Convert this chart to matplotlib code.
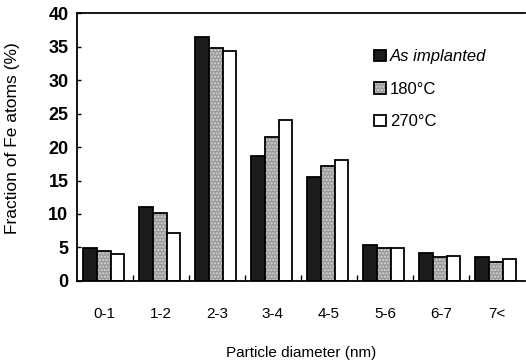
import matplotlib
matplotlib.use("Agg")
import matplotlib.pyplot as plt
import numpy as np

plt.rcParams['font.family'] = ['Liberation Sans', 'DejaVu Sans']

sizes = ["0-1", "1-2", "2-3", "3-4", "4-5", "5-6", "6-7", "7<"]
as_implanted = [4.9, 11.0, 36.5, 18.6, 15.5, 5.4, 4.2, 3.6]
t180 = [4.4, 10.2, 34.8, 21.5, 17.2, 4.9, 3.6, 2.8]
t270 = [4.0, 7.2, 34.4, 24.0, 18.1, 4.9, 3.8, 3.3]

fig = plt.figure(figsize=(5.26, 3.63), dpi=100)
ax = fig.add_axes([0.146, 0.226, 0.852, 0.738])

x = np.arange(len(sizes)) + 0.48
w = 0.245
lw = 1.3
b1 = ax.bar(x - w, as_implanted, width=w, color='#1c1c1c',
            edgecolor='black', linewidth=lw)
# stippled grey: light hatch layer underneath a black outline
b2h = ax.bar(x, t180, width=w, color='#9c9c9c', hatch='.....',
             edgecolor='#d4d4d4', linewidth=0)
b2 = ax.bar(x, t180, width=w, fill=False, edgecolor='black', linewidth=lw)
b3 = ax.bar(x + w, t270, width=w, color='white', edgecolor='black', linewidth=lw)

ax.set_xlim(0, len(sizes))
ax.set_ylim(0, 40)
ax.set_yticks(range(0, 41, 5))
ax.set_xticks(np.arange(len(sizes)) + 0.5)
ax.set_xticklabels(sizes, fontsize=11)
ax.set_xticks(np.arange(1, len(sizes)), minor=True)
ax.tick_params(axis='x', which='major', length=0, pad=19)
ax.tick_params(axis='x', which='minor', direction='in', length=4, width=1)
ax.tick_params(axis='y', direction='in', length=3, width=1, labelsize=13, pad=6)
for t in ax.get_yticklabels():
    t.set_fontweight('bold')

for s in ['left', 'bottom', 'top']:
    ax.spines[s].set_linewidth(lw)
ax.spines['right'].set_visible(False)

ax.set_xlabel('Particle diameter (nm)', fontsize=11, labelpad=18)
ax.set_ylabel('Fraction of Fe atoms (%)', fontsize=12.5)
ax.yaxis.set_label_coords(-0.127, 0.534)

leg = ax.legend([b1[0], (b2h[0], b2[0]), b3[0]],
                ['As implanted', '180°C', '270°C'],
                loc='center left', bbox_to_anchor=(0.63, 0.715), frameon=False,
                fontsize=12, handlelength=0.7, handleheight=0.7,
                handletextpad=0.25, labelspacing=1.05)
leg.get_texts()[0].set_fontstyle('italic')

fig.savefig('out.png', dpi=100)
